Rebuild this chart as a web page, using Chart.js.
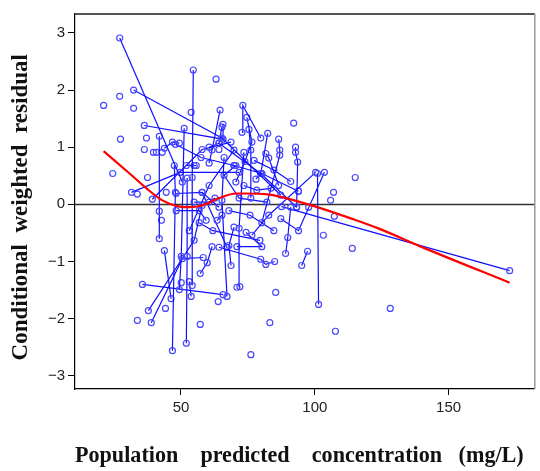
<!DOCTYPE html>
<html><head><meta charset="utf-8">
<script src="https://cdn.jsdelivr.net/npm/chart.js@4/dist/chart.umd.min.js"></script>
<style>html,body{margin:0;padding:0;background:#fff;}#wrap{width:540px;height:471px;}</style>
</head><body><div id="wrap"><canvas id="c" width="540" height="471"></canvas></div>
<script>
// subject id for each observation (0 = single observation, not connected)
const subjectId = [
 1,1, 2,2,2, 3,3,3, 4,4,4, 5,5,5, 6,6,6, 7,7,7, 8,8,8, 9,9,9, 10,10,10,
 11,11,11, 12,12,12, 13,13,13, 14,14,14, 15,15, 16,16,16, 17,17,17, 18,18, 19,19, 20,20,20,
 21,21,21,21, 22,22, 23,23,23, 24,24,24,24, 25,25,25, 26,26,26, 27,27,27,27, 28,28,28, 29,29,29,29, 30,30,30,
 31,31,31, 32,32,32, 33,33,33, 34,34,34,34, 35,35,35, 36,36, 37,37, 38,38,38, 39,39,39, 40,40,40,
 41,41, 42,42,42, 43,43,43, 44,44,
 45,45,45, 46,46, 47,47,47, 48,48,48, 49,49,49, 50,50,50, 51,51,51, 52,52,52,
 0,0,0,0,0,0,0,0,0,0, 0,0,0,0,0,0,0,0,0,0, 0,0,0,0,0,0,0,0,0,0, 0,0,0,0,0,0,0,0,0,0
];
// population predicted concentration (mg/L)
const predConc = [
 27.1,50.5, 32.3,65.3,87.3, 36.3,65.7,65.7, 54.6,54.2,54.2, 72.8,73.1,79.8, 66.1,65.3,67.2, 41.9,41.9,41.9, 51.2,50.1,49.4, 31.5,49.7,71.7, 39.3,57.9,68.7,
 46.8,47.9,47.5, 52.0,52.3,52.3, 37.8,54.9,57.9, 38.9,50.5,58.3, 35.6,65.7, 72.0,71.7,73.5, 68.7,67.9,69.8, 101.4,101.0, 97.3,95.1, 89.1,89.9,91.0,
 64.2,79.8,81.7,85.0, 87.6,172.8, 100.3,82.8,76.5, 92.8,92.8,93.6,93.2, 103.6,93.9,87.3, 57.2,59.8,61.6, 86.5,86.9,86.9,80.2, 82.4,79.8,78.0, 74.6,76.5,73.9,70.5, 75.4,76.1,76.1,
 47.9,57.5,69.8, 64.6,61.6,60.5, 81.7,82.8,86.5, 70.5,66.1,71.7,82.1, 74.3,80.2,70.9, 43.8,46.3, 53.1,53.8, 48.2,57.9,64.2, 54.9,60.5,62.7, 48.2,56.8,59.4,
 63.5,65.3, 43.8,46.8,49.4, 60.5,64.2,65.3, 55.7,52.0,
 69.8,80.2,93.9, 57.9,67.2, 64.2,79.8,93.2, 73.5,78.3,83.6, 67.9,75.8,84.7, 79.5,61.9,56.8, 53.1,60.5,69.8, 77.3,84.7,91.0,
 63.1,27.1,21.1,32.3,27.4,37.1,36.3,39.7,43.0,40.8, 54.9,24.5,37.5,33.7,44.5,42.7,115.1,107.0,105.9,107.3,
 103.2,114.0,128.2,107.7,76.1,83.2,85.4,63.9,57.2,33.7, 44.2,70.9,50.1,53.8,92.1,64.2,80.2,93.9,97.7,67.2
];
// conditional weighted residual
const cwres = [
 2.91,0.39, 2.00,1.16,0.16, 1.38,1.14,1.40, 2.35,0.47,-1.42, 1.26,1.73,1.16, 0.82,0.07,-1.61, 1.19,-0.12,-0.60, 1.33,-0.91,-1.49, 0.21,0.56,0.56, 0.09,0.96,1.09,
 -2.56,0.21,0.68, -2.43,-0.91,0.46, -1.86,-0.63,-0.02, -2.07,-0.95,-0.93, -1.40,-1.58, -1.44,-0.42,0.91, -1.07,-0.72,-0.40, -1.75,0.54, -0.82,-1.07, -0.86,-0.58,-0.05,
 -0.75,-0.96,-1.05,-1.00, -0.04,-1.16, 0.56,-0.19,-0.54, 1.00,0.91,0.74,-0.05, 0.56,-0.46,-0.25, -1.21,-1.02,-0.74, 1.14,0.95,0.86,-0.32, 1.24,0.54,0.44, 1.52,1.09,0.75,0.39, 1.31,0.95,0.11,
 1.05,0.82,0.68, 1.65,0.95,0.72, 0.89,0.81,0.33, 0.68,0.51,0.11,0.04, -0.49,-0.74,-0.74, -0.81,-1.65, -1.35,-1.61, 0.19,0.21,-0.05, 0.04,0.04,0.11, -0.11,-0.11,-0.28,
 -0.28,-0.19, 0.98,1.09,1.07, 1.00,1.07,1.35, 0.68,0.68,
 0.68,0.54,0.23, 0.21,-0.75, 1.07,0.54,-0.05, 0.33,0.25,0.28, -0.11,-0.19,-0.46, -0.63,-0.46,-0.32, -0.46,0.33,0.95, 0.77,0.60,0.40,
 2.19,1.89,1.73,1.68,1.14,1.16,0.96,0.91,0.91,0.91, 0.68,0.54,0.47,0.18,0.21,-0.28,0.47,0.21,0.07,-0.21,
 -0.54,-0.77,-1.82,-2.22,-2.63,-2.07,-1.54,-1.70,-2.10,-2.03, -1.82,-1.45,-1.37,1.61,1.42,0.96,0.54,0.23,-0.05,-0.75
];
// smoothed trend (red)
const smoothX = [21.1,30.8,37.1,43.0,49.4,53.1,57.9,64.2,70.6,74.3,81.7,89.1,100.3,113.7,123.7,141.2,172.8];
const smoothY = [0.93,0.54,0.28,0.07,-0.04,-0.05,-0.02,0.11,0.19,0.19,0.18,0.11,-0.04,-0.25,-0.42,-0.77,-1.37];
const xTicks = [50,100,150];
const yTicks = [-3,-2,-1,0,1,2,3];

const n = Math.min(subjectId.length, predConc.length, cwres.length);
const groups = new Map();
for (let i = 0; i < n; i++) {
  const id = subjectId[i];
  if (!groups.has(id)) groups.set(id, []);
  groups.get(id).push({x: predConc[i], y: cwres[i]});
}
const datasets = [{
  data: smoothX.map((x, i) => ({x, y: smoothY[i]})),
  showLine: true, borderColor: '#ff0000', borderWidth: 2.2, pointRadius: 0,
  cubicInterpolationMode: 'monotone', order: 0
}];
for (const [id, pts] of groups) {
  datasets.push({
    data: pts, showLine: id !== 0,
    borderColor: '#1010ff', borderWidth: 1.2,
    pointRadius: 3, pointBorderWidth: 1.2, pointBorderColor: '#4848ff',
    pointBackgroundColor: 'rgba(0,0,0,0)', order: 1
  });
}

const framePlugin = {
  id: 'frame',
  beforeDatasetsDraw(chart) {
    const {ctx, chartArea: a, scales: {y}} = chart;
    const y0 = Math.round(y.getPixelForValue(0)) + 0.5;
    ctx.save();
    ctx.strokeStyle = '#333'; ctx.lineWidth = 1.5;
    ctx.beginPath(); ctx.moveTo(a.left, y0); ctx.lineTo(a.right, y0); ctx.stroke();
    ctx.restore();
  },
  afterDraw(chart) {
    const {ctx, chartArea: a} = chart;
    ctx.save();
    ctx.strokeStyle = '#555'; ctx.lineWidth = 2;
    ctx.beginPath(); ctx.moveTo(a.left, a.top); ctx.lineTo(a.right, a.top); ctx.stroke();
    ctx.strokeStyle = '#999'; ctx.lineWidth = 1.5;
    ctx.beginPath(); ctx.moveTo(a.right, a.top); ctx.lineTo(a.right, a.bottom); ctx.stroke();
    ctx.restore();
  }
};

const tickFont = {family: "'Liberation Sans', Arial, sans-serif", size: 15};
const titleFont = {family: "'Liberation Serif', 'Times New Roman', serif", size: 23, weight: 'bold'};

new Chart(document.getElementById('c'), {
  type: 'scatter',
  data: {datasets},
  plugins: [framePlugin],
  options: {
    responsive: false, animation: false, devicePixelRatio: 1,
    layout: {padding: {top: 14, right: 1, left: 0, bottom: 0}},
    plugins: {legend: {display: false}, tooltip: {enabled: false}},
    scales: {
      x: {
        type: 'linear', min: 10.4, max: 182.2,
        afterBuildTicks: s => { s.ticks = xTicks.map(v => ({value: v})); },
        afterFit: s => { s.height = 82; },
        grid: {drawOnChartArea: false, tickLength: 6, color: '#000', lineWidth: 1},
        border: {color: '#000', width: 1.2},
        ticks: {font: tickFont, color: '#222', padding: 4, maxRotation: 0},
        title: {display: true, text: 'Population    predicted    concentration   (mg/L)  ', font: titleFont, color: '#111', padding: {top: 0, bottom: 1}}
      },
      y: {
        type: 'linear', min: -3.23, max: 3.33,
        afterBuildTicks: s => { s.ticks = yTicks.map(v => ({value: v})); },
        afterFit: s => { s.width = 75; },
        grid: {drawOnChartArea: false, tickLength: 7, color: '#000', lineWidth: 1},
        border: {color: '#000', width: 1.2},
        ticks: {font: tickFont, color: '#222', padding: 3,
          callback: v => v < 0 ? '\u2212' + Math.abs(v) : String(v)},
        title: {display: true, text: 'Conditional  weighted  residual  ', font: titleFont, color: '#111', padding: {top: 7, bottom: 0}}
      }
    }
  }
});
</script></body></html>
